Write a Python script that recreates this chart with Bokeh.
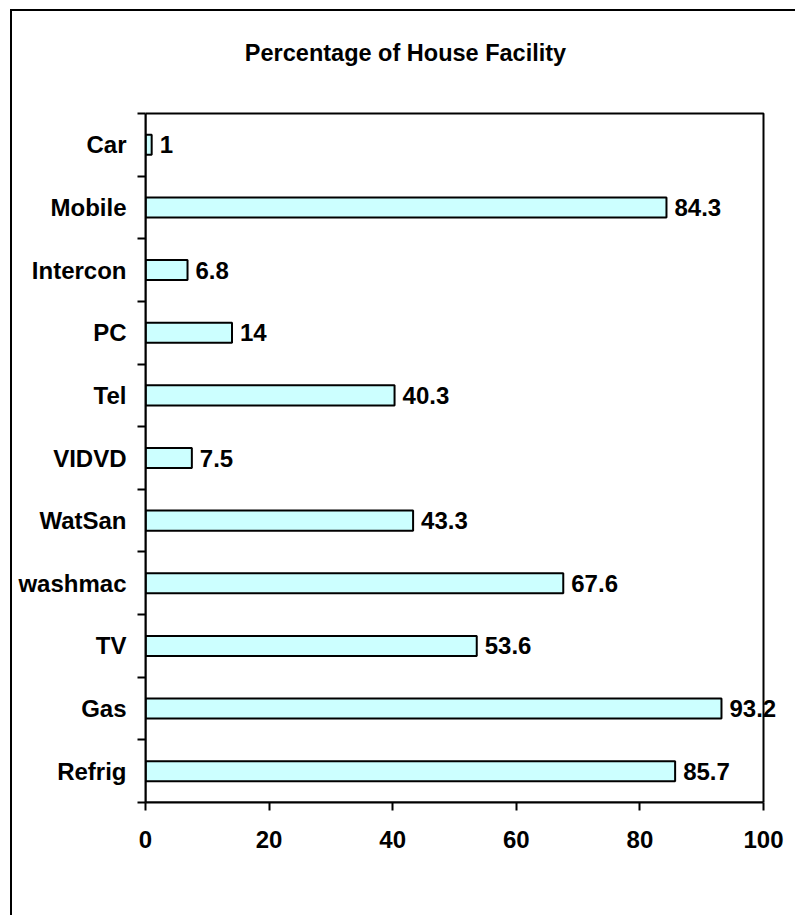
from bokeh.plotting import figure
from bokeh.models import Range1d, FixedTicker, Label, ColumnDataSource, BoxAnnotation
from bokeh.embed import file_html
from bokeh.resources import INLINE

# ---- data ----
categories = ["Refrig", "Gas", "TV", "washmac", "WatSan", "VIDVD",
              "Tel", "PC", "Intercon", "Mobile", "Car"]
values = [85.7, 93.2, 53.6, 67.6, 43.3, 7.5, 40.3, 14, 6.8, 84.3, 1]
x_ticks = [0, 20, 40, 60, 80, 100]
x_max = 100
title_text = "Percentage of House Facility"

n = len(categories)
positions = [i + 0.5 for i in range(n)]
labels = [f"{v:g}" for v in values]
src = ColumnDataSource(dict(y=positions, value=values, label=labels, cat=categories))

FONT = "Liberation Sans"
FS = "24px"

# frame is larger than the data box so that texts are not clipped
W, H = 785, 906
ML, MR, MT, MB = 133, 16, 0, 115
frame_w = W - ML - MR
frame_h = H - MT - MB
x_end = x_max * frame_w / 618.0
y_end = n * frame_h / 689.0

p = figure(width=W, height=H,
           x_range=Range1d(0, x_end), y_range=Range1d(0, y_end),
           output_backend="svg", toolbar_location=None,
           min_border_left=ML, min_border_top=MT,
           min_border_right=MR, min_border_bottom=MB,
           margin=(9, 0, 0, 10))
p.styles = {"border-left": "2px solid black", "border-top": "2px solid black"}

p.background_fill_color = "white"
p.border_fill_color = "white"
p.outline_line_color = None
p.grid.visible = False

# x axis
xa = p.xaxis[0]
xa.ticker = FixedTicker(ticks=x_ticks)
xa.bounds = (0, x_max)
xa.axis_line_width = 2
xa.axis_line_color = "black"
xa.major_tick_line_width = 2
xa.major_tick_line_color = "black"
xa.major_tick_in = 0
xa.major_tick_out = 8
xa.minor_tick_line_color = None
xa.major_label_text_font = FONT
xa.major_label_text_font_size = FS
xa.major_label_text_font_style = "bold"
xa.major_label_text_color = "black"
xa.major_label_standoff = 20

# y axis: labels at centres, ticks at boundaries
ya = p.yaxis[0]
ya.ticker = FixedTicker(ticks=positions, minor_ticks=list(range(n + 1)))
ya.bounds = (0, n)
ya.axis_line_width = 2
ya.axis_line_color = "black"
ya.major_tick_line_color = None
ya.major_tick_in = 0
ya.major_tick_out = 0
ya.minor_tick_line_color = "black"
ya.minor_tick_line_width = 2
ya.minor_tick_in = 0
ya.minor_tick_out = 8
ya.major_label_overrides = {pos: cat for pos, cat in zip(positions, categories)}
ya.major_label_text_font = FONT
ya.major_label_text_font_size = FS
ya.major_label_text_font_style = "bold"
ya.major_label_text_color = "black"
ya.major_label_standoff = 11

# plot-area outline (data box 0..100 x 0..n)
p.add_layout(BoxAnnotation(left=0, right=x_max, bottom=0, top=n,
                           fill_color=None, fill_alpha=0,
                           line_color="black", line_alpha=1, line_width=2))

p.hbar(y="y", left=0, right="value", height=0.32, source=src,
       fill_color="#CCFFFF", line_color="black", line_width=2)

for v, pos, lab in zip(values, positions, labels):
    p.add_layout(Label(x=v, y=pos, text=lab, x_offset=8,
                       text_baseline="middle", text_align="left",
                       text_font=FONT, text_font_size=FS,
                       text_font_style="bold", text_color="black"))

# chart title (screen units measured from the frame's lower-left corner)
p.add_layout(Label(x=260, y=750, x_units="screen", y_units="screen",
                   text=title_text, text_align="center", text_baseline="middle",
                   text_font=FONT, text_font_size="23.5px",
                   text_font_style="bold", text_color="black"))

open("out.html", "w").write(file_html(p, INLINE, "chart"))
